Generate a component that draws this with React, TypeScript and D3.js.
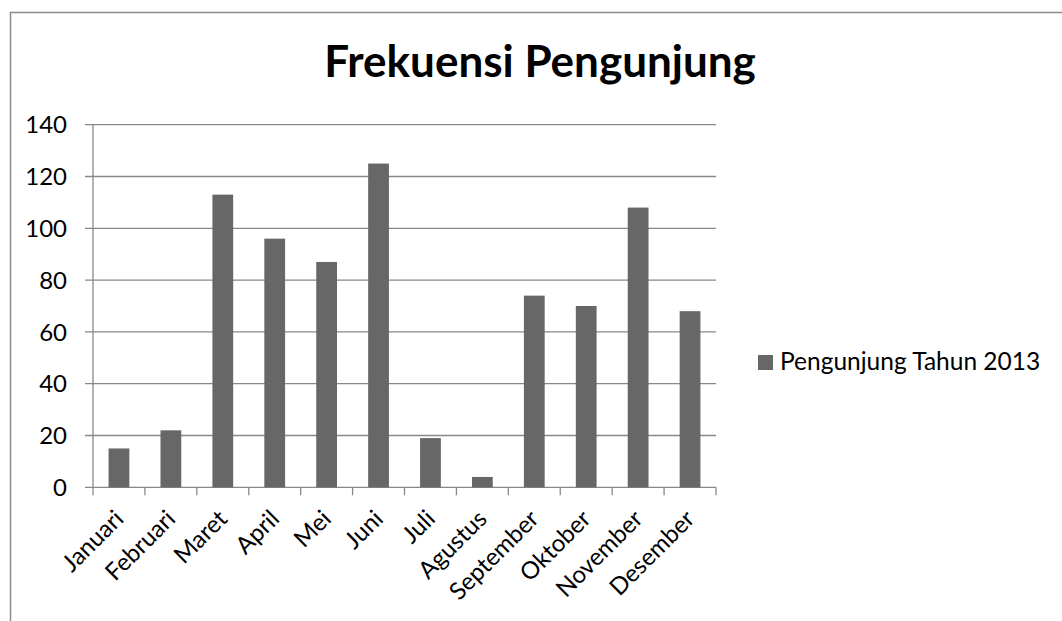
import React, { useEffect, useRef } from 'react';
import * as d3 from 'd3';

const months = ['Januari', 'Februari', 'Maret', 'April', 'Mei', 'Juni', 'Juli', 'Agustus', 'September', 'Oktober', 'November', 'Desember'];
const visitors = [15, 22, 113, 96, 87, 125, 19, 4, 74, 70, 108, 68];
const yTicks = [0, 20, 40, 60, 80, 100, 120, 140];
const seriesName = 'Pengunjung Tahun 2013';
const title = 'Frekuensi Pengunjung';

const App = () => {
  const ref = useRef<SVGSVGElement | null>(null);

  useEffect(() => {
    if (!ref.current) return;
    const svg = d3.select(ref.current);
    svg.selectAll('*').remove();

    const font = 'Lato, "Open Sans", sans-serif';
    const axisColor = '#888888';
    const barColor = '#676767';
    const left = 93, right = 716, top = 124.7, bottom = 487.3;

    // chart frame (only top and left edges are visible in the picture)
    svg.append('path')
      .attr('d', `M10.5,621 V12.5 H1062`)
      .attr('fill', 'none')
      .attr('stroke', '#8c8c8c')
      .attr('stroke-width', 1.5);

    const slot = d3.scaleBand<string>().domain(months).range([left, right]);
    const x = d3.scaleBand<string>().domain(months).range([left, right])
      .paddingInner(0.6).paddingOuter(0.3);
    const y = d3.scaleLinear().domain([0, 140]).range([bottom, top]);

    // gridlines + y ticks
    const grid = svg.append('g');
    grid.selectAll('line')
      .data(yTicks)
      .enter()
      .append('line')
      .attr('x1', left - 8)
      .attr('x2', right)
      .attr('y1', d => y(d))
      .attr('y2', d => y(d))
      .attr('stroke', axisColor)
      .attr('stroke-width', 1.3);

    svg.append('g')
      .selectAll('text')
      .data(yTicks)
      .enter()
      .append('text')
      .attr('x', 67)
      .attr('y', d => y(d))
      .attr('dy', '0.36em')
      .attr('text-anchor', 'end')
      .attr('font-family', font)
      .attr('font-size', 24)
      .attr('fill', '#000')
      .text(d => d);

    // bars
    svg.append('g')
      .selectAll('rect')
      .data(visitors)
      .enter()
      .append('rect')
      .attr('x', (d, i) => x(months[i])!)
      .attr('y', d => y(d))
      .attr('width', x.bandwidth())
      .attr('height', d => y(0) - y(d))
      .attr('fill', barColor);

    // y axis line
    svg.append('line')
      .attr('x1', left).attr('x2', left)
      .attr('y1', top).attr('y2', bottom)
      .attr('stroke', axisColor)
      .attr('stroke-width', 1.3);

    // x axis tick marks at category boundaries
    const bounds = months.map(m => slot(m)!).concat([right]);
    svg.append('g')
      .selectAll('line')
      .data(bounds)
      .enter()
      .append('line')
      .attr('x1', d => d).attr('x2', d => d)
      .attr('y1', bottom).attr('y2', bottom + 8)
      .attr('stroke', axisColor)
      .attr('stroke-width', 1.3);

    // rotated month labels
    svg.append('g')
      .selectAll('text')
      .data(months)
      .enter()
      .append('text')
      .attr('transform', d => `translate(${slot(d)! + slot.bandwidth() / 2 + 6},${bottom + 33}) rotate(-45)`)
      .attr('text-anchor', 'end')
      .attr('font-family', font)
      .attr('font-size', 24)
      .attr('fill', '#000')
      .text(d => d);

    // title
    svg.append('text')
      .attr('x', 540)
      .attr('y', 77)
      .attr('text-anchor', 'middle')
      .attr('font-family', font)
      .attr('font-weight', 'bold')
      .attr('font-size', 44)
      .attr('fill', '#000')
      .text(title);

    // legend
    svg.append('rect')
      .attr('x', 758).attr('y', 355)
      .attr('width', 15).attr('height', 15)
      .attr('fill', barColor);
    svg.append('text')
      .attr('x', 780)
      .attr('y', 370)
      .attr('font-family', font)
      .attr('font-size', 24.5)
      .attr('fill', '#000')
      .text(seriesName);
  }, []);

  return (
    <svg
      ref={ref}
      width={1062}
      height={621}
      style={{ position: 'absolute', left: 0, top: 0, background: '#fff' }}
    />
  );
};

export default App;
